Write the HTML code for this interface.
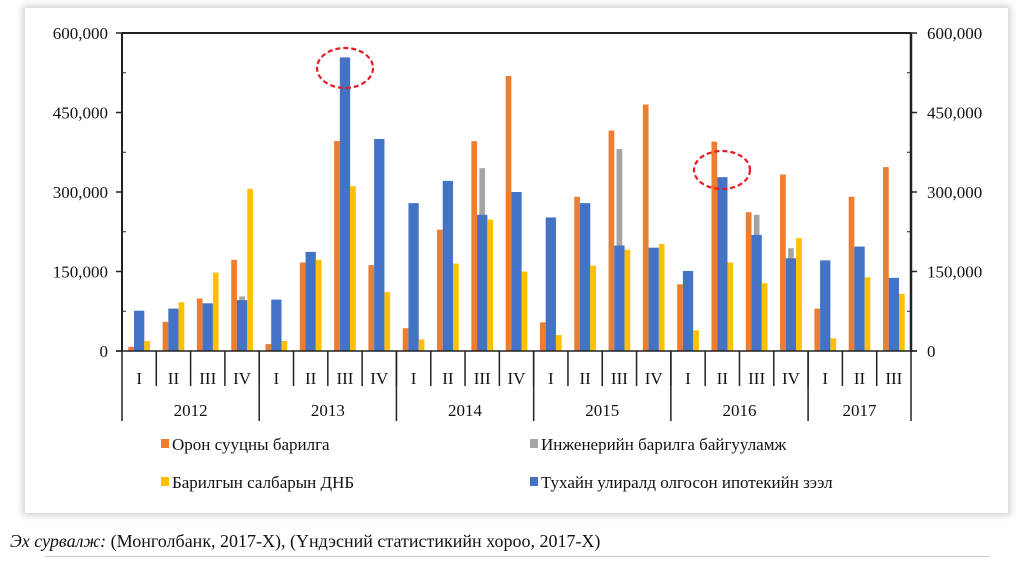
<!DOCTYPE html>
<html><head><meta charset="utf-8"><style>
html,body{margin:0;padding:0;width:1024px;height:563px;overflow:hidden;background:#fff;font-family:"Liberation Serif",serif}
#card{position:absolute;left:25px;top:8px;width:983px;height:505px;background:#fff;box-shadow:0 0 6px 3px #d8d8d8}
#src{position:absolute;left:10px;top:531px;font-size:18px;color:#111;white-space:nowrap}
#line{position:absolute;left:45px;top:556px;width:945px;height:1px;background:#ccc}
svg{position:absolute;left:0;top:0}
</style></head><body>
<div id="card"></div>
<svg id="chart" width="1024" height="563"></svg>
<div id="src"><i>Эх сурвалж:</i> (Монголбанк, 2017-X), (Үндэсний статистикийн хороо, 2017-X)</div>
<div id="line"></div>
<script>
const quarters=["I","II","III","IV","I","II","III","IV","I","II","III","IV","I","II","III","IV","I","II","III","IV","I","II","III"];
const years=["2012","2013","2014","2015","2016","2017"];
const yearCounts=[4,4,4,4,4,3];
const housing=[8,55,99,172,13,167,396,162,43,229,396,519,54,291,416,465,126,395,262,333,80,291,347];
const engineering=[0,0,0,103,0,0,0,0,0,0,345,0,0,0,381,0,0,0,257,194,0,0,0];
const gdp=[19,92,148,306,19,172,311,111,22,165,248,150,30,161,191,202,39,167,128,213,24,139,108];
const mortgage=[76,80,90,96,97,187,554,400,279,321,257,300,252,279,199,195,151,328,219,175,171,197,138];
const ticks=[0,150000,300000,450000,600000];
const tickLabels=["0","150,000","300,000","450,000","600,000"];
const legendLabels=["Орон сууцны барилга","Инженерийн барилга байгууламж","Барилгын салбарын ДНБ","Тухайн улиралд олгосон ипотекийн зээл"];

const svg=document.getElementById('chart');const NS="http://www.w3.org/2000/svg";
const X0=122,X1=911,Y0=351,Y1=33,MAX=600000;
const gw=(X1-X0)/quarters.length;
const y=v=>Y0-(v/MAX)*(Y0-Y1);
const gx=i=>X0+i*gw;
function mk(t,a,txt){const e=document.createElementNS(NS,t);for(const k in a)e.setAttribute(k,a[k]);if(txt!==undefined)e.textContent=txt;svg.appendChild(e);return e;}
function bar(i,off,w,v,col,name){const r=mk('rect',{x:gx(i)+off,y:y(v*1000),width:w,height:Y0-y(v*1000),fill:col});

}
quarters.forEach((q,i)=>{
 if(housing[i])bar(i,6.3,5.7,housing[i],'#ed7d31','bar-housing-'+i);
 if(engineering[i])bar(i,14.3,5.7,engineering[i],'#a5a5a5','bar-engineering-'+i);
 bar(i,12,10.3,mortgage[i],'#4472c4','bar-mortgage-'+i);
 bar(i,22.3,5.7,gdp[i],'#ffc000','bar-gdp-'+i);
});
// axes
let a=mk('line',{x1:X0,y1:Y1,x2:X1,y2:Y1,stroke:'#222','stroke-width':2});
a=mk('line',{x1:X0,y1:Y1,x2:X0,y2:Y0,stroke:'#222','stroke-width':2});
a=mk('line',{x1:X1,y1:Y1,x2:X1,y2:Y0,stroke:'#222','stroke-width':2.5});
a=mk('line',{x1:X0-6,y1:Y0,x2:X1+6,y2:Y0,stroke:'#222','stroke-width':1.5});
ticks.forEach((t,k)=>{
 mk('line',{x1:X0-6,y1:y(t),x2:X0,y2:y(t),stroke:'#222','stroke-width':1.5});
 mk('line',{x1:X1,y1:y(t),x2:X1+6,y2:y(t),stroke:'#222','stroke-width':1.5});
 if(k<ticks.length-1){const m=y(t+75000);mk('line',{x1:X0,y1:m,x2:X0+4,y2:m,stroke:'#222'});mk('line',{x1:X1-4,y1:m,x2:X1,y2:m,stroke:'#222'});}
 let l=mk('text',{x:108,y:y(t)+6,'text-anchor':'end','font-size':17,fill:'#111'},tickLabels[k]);
 
 l=mk('text',{x:927,y:y(t)+6,'font-size':17,fill:'#111'},tickLabels[k]);
 
});
quarters.forEach((q,i)=>{
 const l=mk('text',{x:gx(i)+gw/2,y:384,'text-anchor':'middle','font-size':17,fill:'#111'},q);
 
 if(i>0)mk('line',{x1:gx(i),y1:Y0,x2:gx(i),y2:386,stroke:'#222','stroke-width':1.5});
});
let s=0;
years.forEach((yr,k)=>{
 mk('line',{x1:gx(s),y1:Y0,x2:gx(s),y2:421,stroke:'#222','stroke-width':1.5});
 const l=mk('text',{x:gx(s+yearCounts[k]/2),y:416,'text-anchor':'middle','font-size':17,fill:'#111'},yr);
 
 s+=yearCounts[k];
});
mk('line',{x1:X1,y1:Y0,x2:X1,y2:421,stroke:'#222','stroke-width':1.5});
// ellipses
let e=mk('ellipse',{cx:345,cy:68,rx:28,ry:20,fill:'none',stroke:'#e31b23','stroke-width':2.2,'stroke-dasharray':'5,3'});

e=mk('ellipse',{cx:722,cy:170,rx:28,ry:19,fill:'none',stroke:'#e31b23','stroke-width':2.2,'stroke-dasharray':'5,3'});

// legend
const lc=['#ed7d31','#a5a5a5','#ffc000','#4472c4'];
const lp=[[161,450],[530,450],[161,488],[530,488]];
legendLabels.forEach((t,k)=>{
 mk('rect',{x:lp[k][0],y:lp[k][1]-11,width:8,height:9,fill:lc[k]});
 const l=mk('text',{x:lp[k][0]+11,y:lp[k][1],'font-size':17,fill:'#111'},t);
 
});
</script>
</body></html>
